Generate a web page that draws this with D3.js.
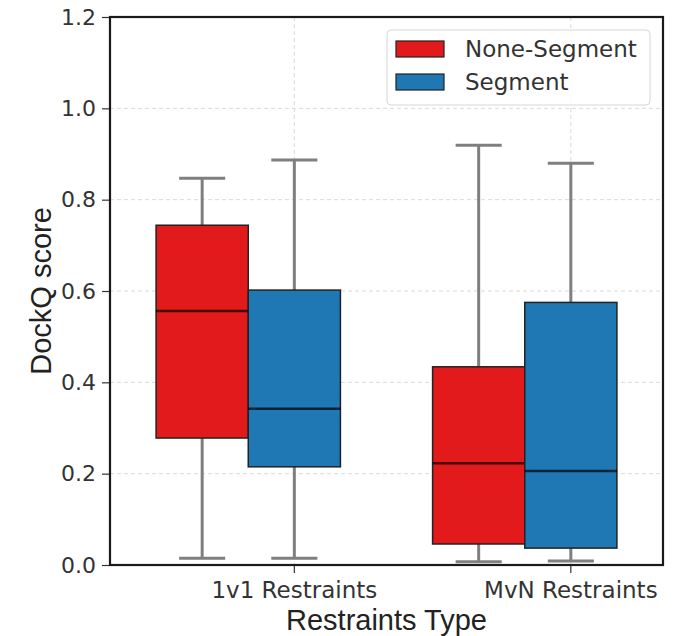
<!DOCTYPE html>
<html>
<head>
<meta charset="utf-8">
<script src="https://cdn.jsdelivr.net/npm/d3@7"></script>
<style>
  html, body { margin: 0; padding: 0; background: #fff; }
  svg { display: block; }
</style>
</head>
<body>
<svg id="chart" width="684" height="636"></svg>
<script>
// Restraint types along the x axis and the two box series
const categories = ["1v1 Restraints", "MvN Restraints"];
const series = ["None-Segment", "Segment"];
const seriesColors = ["#e31a1c", "#1f77b4"];

// Box statistics per series, one value per category
const whiskerLow = {
  "None-Segment": [0.015, 0.007],
  "Segment":      [0.015, 0.009]
};
const q1 = {
  "None-Segment": [0.278, 0.046],
  "Segment":      [0.215, 0.037]
};
const median = {
  "None-Segment": [0.556, 0.223],
  "Segment":      [0.342, 0.206]
};
const q3 = {
  "None-Segment": [0.744, 0.434],
  "Segment":      [0.602, 0.575]
};
const whiskerHigh = {
  "None-Segment": [0.847, 0.919],
  "Segment":      [0.887, 0.880]
};

const yTicks = [0.0, 0.2, 0.4, 0.6, 0.8, 1.0, 1.2];

const svg = d3.select("#chart");
const margin = { left: 110, right: 21, top: 17, bottom: 71 };
const W = 684, H = 636;
const plotW = W - margin.left - margin.right;
const plotH = H - margin.top - margin.bottom;

const g = svg.append("g").attr("transform", `translate(${margin.left},${margin.top})`);

const x = d3.scaleBand().domain(categories).range([0, plotW]).padding(0);
const xInner = d3.scaleBand().domain(series).range([0, x.bandwidth()]).paddingInner(0).paddingOuter(0.5);
const y = d3.scaleLinear().domain([0, 1.2]).range([plotH, 0]);

// tick positions sit at the centre of the second box of each group
const tickPos = c => x(c) + xInner(series[1]) + xInner.bandwidth() / 2;

// grid
const grid = g.append("g").attr("class", "grid");
grid.selectAll("line.hgrid").data(yTicks.slice(1, -1)).join("line")
  .attr("x1", 0).attr("x2", plotW)
  .attr("y1", d => y(d)).attr("y2", d => y(d))
  .attr("stroke", "#d9d9d9").attr("stroke-width", 1).attr("stroke-dasharray", "4,3");
grid.selectAll("line.vgrid").data(categories).join("line")
  .attr("x1", d => tickPos(d)).attr("x2", d => tickPos(d))
  .attr("y1", 0).attr("y2", plotH)
  .attr("stroke", "#d9d9d9").attr("stroke-width", 1).attr("stroke-dasharray", "4,3");

// boxes
const rows = [];
categories.forEach((c, i) => {
  series.forEach((s, j) => {
    rows.push({
      cat: c, ser: s, color: seriesColors[j],
      lo: whiskerLow[s][i], q1: q1[s][i], med: median[s][i], q3: q3[s][i], hi: whiskerHigh[s][i]
    });
  });
});

const boxes = g.append("g").selectAll("g.box").data(rows).join("g")
  .attr("transform", d => `translate(${x(d.cat) + xInner(d.ser)},0)`);
const bw = xInner.bandwidth();

// whiskers
boxes.append("line")
  .attr("x1", bw / 2).attr("x2", bw / 2)
  .attr("y1", d => y(d.q3)).attr("y2", d => y(d.hi))
  .attr("stroke", "#7f7f7f").attr("stroke-width", 3);
boxes.append("line")
  .attr("x1", bw / 2).attr("x2", bw / 2)
  .attr("y1", d => y(d.q1)).attr("y2", d => y(d.lo))
  .attr("stroke", "#7f7f7f").attr("stroke-width", 3);
// caps
boxes.append("line")
  .attr("x1", bw / 4).attr("x2", bw * 3 / 4)
  .attr("y1", d => y(d.hi)).attr("y2", d => y(d.hi))
  .attr("stroke", "#7f7f7f").attr("stroke-width", 3);
boxes.append("line")
  .attr("x1", bw / 4).attr("x2", bw * 3 / 4)
  .attr("y1", d => y(d.lo)).attr("y2", d => y(d.lo))
  .attr("stroke", "#7f7f7f").attr("stroke-width", 3);
// box body
boxes.append("rect")
  .attr("x", 0).attr("width", bw)
  .attr("y", d => y(d.q3)).attr("height", d => y(d.q1) - y(d.q3))
  .attr("fill", d => d.color)
  .attr("stroke", "#222").attr("stroke-width", 1.5);
// median
boxes.append("line")
  .attr("x1", 0).attr("x2", bw)
  .attr("y1", d => y(d.med)).attr("y2", d => y(d.med))
  .attr("stroke", "rgba(0,0,0,0.7)").attr("stroke-width", 2.5);

// axes
const yAxis = g.append("g")
  .call(d3.axisLeft(y).tickValues(yTicks).tickFormat(d3.format(".1f")).tickSize(8).tickPadding(6));
yAxis.select(".domain").remove();
yAxis.selectAll(".tick line").attr("stroke", "#333").attr("stroke-width", 1.2);
yAxis.selectAll(".tick text")
  .attr("font-family", "DejaVu Sans").attr("font-size", 22).attr("fill", "#333");

const xAxis = g.append("g").attr("transform", `translate(0,${plotH})`);
xAxis.selectAll("g.tick").data(categories).join("g")
  .attr("class", "tick")
  .attr("transform", d => `translate(${tickPos(d)},0)`)
  .each(function (d) {
    const t = d3.select(this);
    t.append("line").attr("y1", 0).attr("y2", 8).attr("stroke", "#333").attr("stroke-width", 1.2);
    t.append("text").attr("y", 33).attr("text-anchor", "middle")
      .attr("font-family", "DejaVu Sans").attr("font-size", 23).attr("fill", "#333").text(d);
  });

// frame
g.append("rect").attr("x", 0).attr("y", 0).attr("width", plotW).attr("height", plotH)
  .attr("fill", "none").attr("stroke", "#1a1a1a").attr("stroke-width", 2.2);

// axis titles
svg.append("text")
  .attr("x", margin.left + plotW / 2).attr("y", 630)
  .attr("text-anchor", "middle")
  .attr("font-family", "Liberation Sans, Arial, sans-serif").attr("font-size", 29).attr("fill", "#222")
  .text("Restraints Type");
svg.append("text")
  .attr("transform", `translate(51,${margin.top + plotH / 2}) rotate(-90)`)
  .attr("text-anchor", "middle")
  .attr("font-family", "Liberation Sans, Arial, sans-serif").attr("font-size", 29).attr("fill", "#222")
  .text("DockQ score");

// legend
const legend = svg.append("g").attr("transform", "translate(387,30)");
legend.append("rect").attr("x", 0).attr("y", 0).attr("width", 263).attr("height", 75).attr("rx", 4)
  .attr("fill", "rgba(255,255,255,0.85)").attr("stroke", "#d6d6d6").attr("stroke-width", 1);
series.forEach((s, j) => {
  const row = legend.append("g").attr("transform", `translate(0,${11 + j * 33})`);
  row.append("rect").attr("x", 9).attr("y", 0).attr("width", 48).attr("height", 16)
    .attr("fill", seriesColors[j]).attr("stroke", "#222").attr("stroke-width", 1.2);
  row.append("text").attr("x", 78).attr("y", 16)
    .attr("font-family", "DejaVu Sans").attr("font-size", 23).attr("fill", "#333").text(s);
});
</script>
</body>
</html>
